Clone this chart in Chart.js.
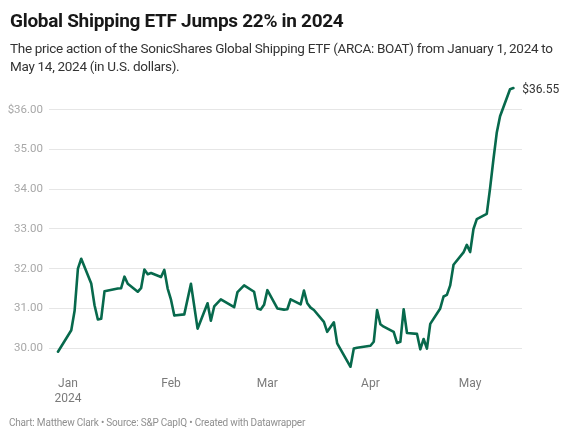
<!DOCTYPE html>
<html>
<head>
<meta charset="utf-8">
<script src="https://cdn.jsdelivr.net/npm/chart.js@4.4.1/dist/chart.umd.min.js"></script>
<style>
    body { margin: 0; background: #fff; font-family: Roboto, sans-serif; }
    #wrap { position: relative; width: 575px; height: 439px; overflow: hidden; }
    #chartBox { position: absolute; left: 0; top: 0; width: 575px; height: 439px; }
    .title { position: absolute; left: 10px; top: 9px; font-size: 19px; letter-spacing: -0.3px; font-weight: 700; color: #181818; line-height: 24px; }
    .subtitle { position: absolute; left: 10px; top: 39px; width: 562px; font-size: 13.5px; letter-spacing: -0.3px; color: #333; line-height: 18px; }
    .footer { position: absolute; left: 9px; top: 417px; font-size: 10px; letter-spacing: -0.2px; color: #909090; }
</style>
</head>
<body>
<div id="wrap">
    <div id="chartBox"><canvas id="etfChart"></canvas></div>
    <div class="title">Global Shipping ETF Jumps 22% in 2024</div>
    <div class="subtitle">The price action of the SonicShares Global Shipping ETF (ARCA: BOAT) from January 1, 2024 to May 14, 2024 (in U.S. dollars).</div>
    <div class="footer">Chart: Matthew Clark • Source: S&amp;P CapIQ • Created with Datawrapper</div>
</div>
<script>
// closing prices
const dates = [
    '2023-12-29', '2024-01-02', '2024-01-03', '2024-01-04', '2024-01-05', '2024-01-08', '2024-01-09',
    '2024-01-10', '2024-01-11', '2024-01-12', '2024-01-16', '2024-01-17', '2024-01-18', '2024-01-19',
    '2024-01-22', '2024-01-23', '2024-01-24', '2024-01-25', '2024-01-26', '2024-01-29', '2024-01-30',
    '2024-01-31', '2024-02-01', '2024-02-02', '2024-02-05', '2024-02-07', '2024-02-09', '2024-02-12',
    '2024-02-13', '2024-02-14', '2024-02-16', '2024-02-20', '2024-02-21', '2024-02-23', '2024-02-26',
    '2024-02-27', '2024-02-28', '2024-02-29', '2024-03-01', '2024-03-04', '2024-03-06', '2024-03-07',
    '2024-03-08', '2024-03-11', '2024-03-12', '2024-03-13', '2024-03-14', '2024-03-15', '2024-03-18',
    '2024-03-19', '2024-03-21', '2024-03-22', '2024-03-26', '2024-03-27', '2024-03-28', '2024-04-01',
    '2024-04-02', '2024-04-03', '2024-04-04', '2024-04-05', '2024-04-08', '2024-04-09', '2024-04-10',
    '2024-04-11', '2024-04-12', '2024-04-15', '2024-04-16', '2024-04-17', '2024-04-18', '2024-04-19',
    '2024-04-22', '2024-04-23', '2024-04-24', '2024-04-25', '2024-04-26', '2024-04-29', '2024-04-30',
    '2024-05-01', '2024-05-02', '2024-05-03', '2024-05-06', '2024-05-07', '2024-05-08', '2024-05-09',
    '2024-05-10', '2024-05-13', '2024-05-14'
];
const prices = [
    29.91, 30.45, 30.94, 32.00, 32.25, 31.63, 31.08,
    30.72, 30.74, 31.43, 31.50, 31.51, 31.80, 31.62,
    31.42, 31.51, 31.98, 31.86, 31.89, 31.79, 31.97,
    31.50, 31.22, 30.82, 30.85, 31.62, 30.49, 31.13,
    30.69, 31.05, 31.23, 31.03, 31.41, 31.58, 31.42,
    31.00, 30.97, 31.09, 31.46, 31.00, 30.97, 30.98,
    31.23, 31.10, 31.45, 31.13, 31.02, 30.96, 30.66,
    30.41, 30.65, 30.12, 29.53, 29.99, 30.01, 30.06,
    30.16, 30.96, 30.60, 30.54, 30.41, 30.13, 30.16,
    30.98, 30.38, 30.36, 29.97, 30.23, 29.99, 30.61,
    31.00, 31.30, 31.34, 31.58, 32.10, 32.41, 32.60,
    32.42, 33.00, 33.25, 33.38, 34.03, 34.75, 35.42,
    35.84, 36.52, 36.55
];
const monthStarts = ['2024-01-01', '2024-02-01', '2024-03-01', '2024-04-01', '2024-05-01'];
const monthLabels = [['Jan', '2024'], 'Feb', 'Mar', 'Apr', 'May'];
const yTicks = [30, 31, 32, 33, 34, 35, 36];

const lineColor = '#07694c';

function dayOf(dateStr) {
    const [y, m, d] = dateStr.split('-').map(Number);
    return (Date.UTC(y, m - 1, d) - Date.UTC(2024, 0, 1)) / 86400000;
}

const points = dates.map((d, i) => ({ x: dayOf(d), y: prices[i] }));

const endLabel = {
    id: 'endLabel',
    afterDatasetsDraw(chart) {
        const meta = chart.getDatasetMeta(0);
        const last = meta.data[meta.data.length - 1];
        const value = prices[prices.length - 1];
        const c = chart.ctx;
        c.save();
        c.font = '12px Roboto';
        c.fillStyle = '#333';
        c.textAlign = 'left';
        c.textBaseline = 'middle';
        c.fillText('$' + value.toFixed(2), last.x + 9, last.y + 2);
        c.restore();
    }
};

Chart.defaults.font.family = 'Roboto';

const ctx = document.getElementById('etfChart').getContext('2d');
new Chart(ctx, {
    type: 'line',
    data: {
        datasets: [{
            data: points,
            borderColor: lineColor,
            borderWidth: 2.6,
            pointRadius: 0,
            tension: 0,
            borderJoinStyle: 'round',
            borderCapStyle: 'round'
        }]
    },
    options: {
        responsive: true,
        maintainAspectRatio: false,
        animation: false,
        layout: {
            padding: { top: 86, right: 53, bottom: 35, left: 0 }
        },
        plugins: {
            legend: { display: false },
            tooltip: { enabled: false }
        },
        scales: {
            x: {
                type: 'linear',
                min: -5.7,
                max: 136.6,
                afterBuildTicks: (scale) => {
                    scale.ticks = monthStarts.map(d => ({ value: dayOf(d) }));
                },
                afterFit: (scale) => { scale.height = 36; },
                grid: { display: false },
                border: { display: false },
                ticks: {
                    autoSkip: false,
                    maxRotation: 0,
                    padding: 1,
                    color: '#7a7a7a',
                    font: { size: 12 },
                    callback: (value, index) => monthLabels[index]
                }
            },
            y: {
                min: 29.5,
                max: 36.6,
                afterBuildTicks: (scale) => {
                    scale.ticks = yTicks.map(v => ({ value: v }));
                },
                afterFit: (scale) => { scale.width = 49; },
                grid: { color: '#e6e6e6', drawTicks: false },
                border: { display: false },
                ticks: {
                    padding: 6,
                    color: '#a8a8a8',
                    font: { size: 11.5 },
                    callback: (value) => value === 36 ? '$36.00' : value.toFixed(2)
                }
            }
        }
    },
    plugins: [endLabel]
});
</script>
</body>
</html>
